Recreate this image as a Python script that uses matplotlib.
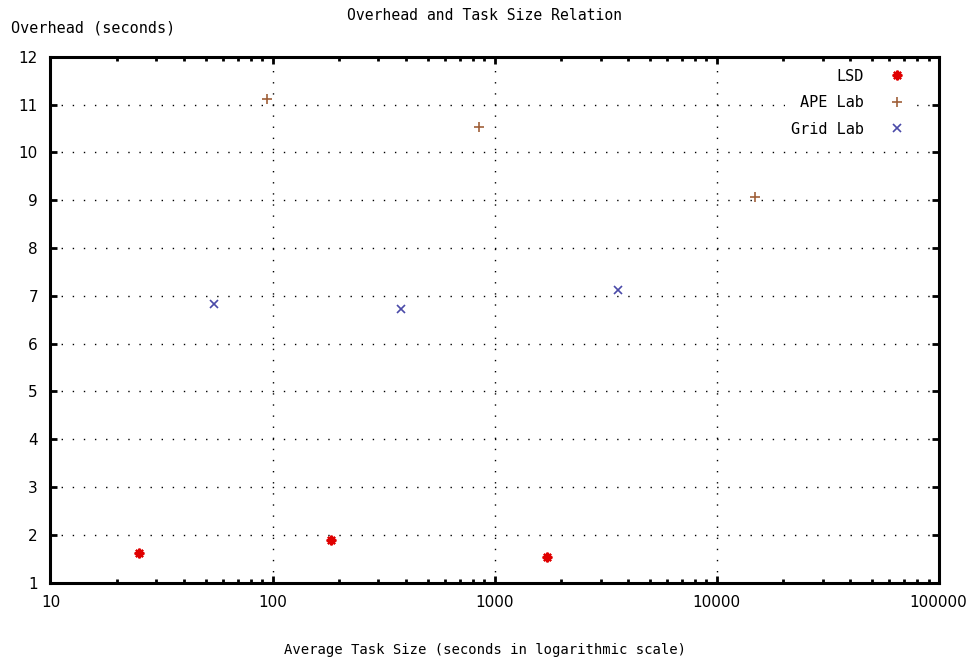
import matplotlib
matplotlib.use("Agg")
import matplotlib.pyplot as plt
from matplotlib.ticker import LogLocator, FixedLocator, NullFormatter

# average task size (s) vs overhead (s) per site
lsd_size = [25, 183, 1720]
lsd_overhead = [1.63, 1.89, 1.53]
ape_size = [94, 855, 14900]
ape_overhead = [11.12, 10.54, 9.07]
grid_size = [54.7, 377, 3600]
grid_overhead = [6.83, 6.72, 7.12]

x_ticks = [10, 100, 1000, 10000, 100000]
x_tick_labels = ["10", "100", "1000", "10000", "100000"]
y_ticks = list(range(1, 13))

mono = "DejaVu Sans Mono"

fig = plt.figure(figsize=(9.69, 6.65), dpi=100)
ax = fig.add_axes([0.0521, 0.1238, 0.9166, 0.7909])

ax.set_xscale("log")
ax.set_xlim(10, 100000)
ax.set_ylim(1, 12)

ax.plot(lsd_size, lsd_overhead, ls="none", marker=(8, 2, 0), ms=7, mew=1.6,
        color="#e00000", label="LSD")
ax.plot(ape_size, ape_overhead, ls="none", marker="+", ms=6.5, mew=1.2,
        color="#a0603a", label="APE Lab")
ax.plot(grid_size, grid_overhead, ls="none", marker="x", ms=5.5, mew=1.2,
        color="#4a4aa8", label="Grid Lab")

ax.xaxis.set_major_locator(FixedLocator(x_ticks))
ax.set_xticklabels(x_tick_labels)
ax.xaxis.set_minor_locator(LogLocator(base=10, subs=range(2, 10)))
ax.xaxis.set_minor_formatter(NullFormatter())
ax.set_yticks(y_ticks)

# dotted grid at the major ticks only
ax.grid(True, which="major", color="black", linestyle=(0, (1, 7)), linewidth=1.0)
ax.tick_params(which="both", direction="in", top=True, right=True,
               labelsize=11, pad=9, width=2, color="black")
ax.tick_params(which="major", length=5)
ax.tick_params(which="minor", length=3)
for lbl in ax.get_xticklabels() + ax.get_yticklabels():
    lbl.set_fontfamily("DejaVu Sans")
for sp in ax.spines.values():
    sp.set_linewidth(2.2)

fig.text(0.5, 0.977, "Overhead and Task Size Relation", ha="center", va="center",
         family=mono, fontsize=10.6)
fig.text(0.011, 0.958, "Overhead (seconds)", ha="left", va="center",
         family=mono, fontsize=10.9)
fig.text(0.5, 0.022, "Average Task Size (seconds in logarithmic scale)",
         ha="center", va="center", family=mono, fontsize=10)

# key sits on a white patch so the grid doesn't run through it
leg = ax.legend(loc="upper right", bbox_to_anchor=(0.9727, 0.989),
                borderaxespad=0, frameon=True, fancybox=False,
                markerfirst=False, prop={"family": mono, "size": 11},
                handlelength=1.5, labelspacing=0.75, handletextpad=1.4)
leg.get_frame().set_facecolor("white")
leg.get_frame().set_edgecolor("none")
leg.get_frame().set_alpha(1.0)

fig.savefig("out.png", dpi=100)
